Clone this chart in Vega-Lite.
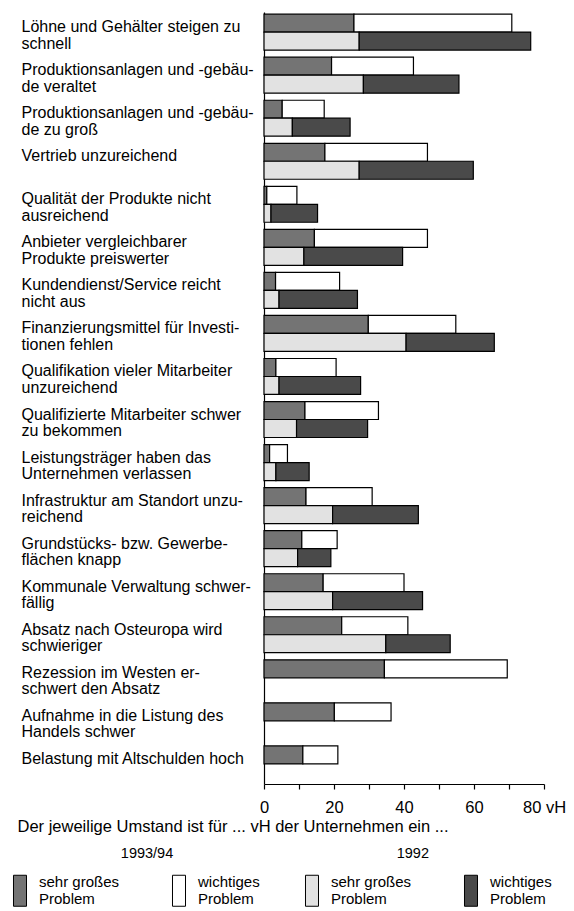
{
 "$schema": "https://vega.github.io/schema/vega-lite/v6.json",
 "width": 280, "height": 772,
 "autosize": {"type": "none"},
 "padding": {"left": 264, "top": 12, "right": 30, "bottom": 127},
 "background": "white",
 "config": {
  "font": "Liberation Sans",
  "view": {"stroke": null},
  "axis": {"grid": false, "domainColor": "black", "tickColor": "black", "labelColor": "black", "titleColor": "black", "domainWidth": 1.2, "tickWidth": 1.2}
 },
 "data": {"values": [
  {"k": "Löhne und Gehälter steigen zu|schnell", "j": "1993/94", "sehr großes": 25.7, "wichtiges": 45.1},
  {"k": "Löhne und Gehälter steigen zu|schnell", "j": "1992", "sehr großes": 27.2, "wichtiges": 49.0},
  {"k": "Produktionsanlagen und -gebäu-|de veraltet", "j": "1993/94", "sehr großes": 19.3, "wichtiges": 23.4},
  {"k": "Produktionsanlagen und -gebäu-|de veraltet", "j": "1992", "sehr großes": 28.4, "wichtiges": 27.3},
  {"k": "Produktionsanlagen und -gebäu-|de zu groß", "j": "1993/94", "sehr großes": 5.2, "wichtiges": 12.0},
  {"k": "Produktionsanlagen und -gebäu-|de zu groß", "j": "1992", "sehr großes": 8.1, "wichtiges": 16.5},
  {"k": "Vertrieb unzureichend", "j": "1993/94", "sehr großes": 17.4, "wichtiges": 29.3},
  {"k": "Vertrieb unzureichend", "j": "1992", "sehr großes": 27.2, "wichtiges": 32.6},
  {"k": "Qualität der Produkte nicht|ausreichend", "j": "1993/94", "sehr großes": 0.8, "wichtiges": 8.6},
  {"k": "Qualität der Produkte nicht|ausreichend", "j": "1992", "sehr großes": 2.0, "wichtiges": 13.3},
  {"k": "Anbieter vergleichbarer|Produkte preiswerter", "j": "1993/94", "sehr großes": 14.4, "wichtiges": 32.3},
  {"k": "Anbieter vergleichbarer|Produkte preiswerter", "j": "1992", "sehr großes": 11.4, "wichtiges": 28.2},
  {"k": "Kundendienst/Service reicht|nicht aus", "j": "1993/94", "sehr großes": 3.3, "wichtiges": 18.3},
  {"k": "Kundendienst/Service reicht|nicht aus", "j": "1992", "sehr großes": 4.3, "wichtiges": 22.4},
  {"k": "Finanzierungsmittel für Investi-|tionen fehlen", "j": "1993/94", "sehr großes": 29.8, "wichtiges": 25.0},
  {"k": "Finanzierungsmittel für Investi-|tionen fehlen", "j": "1992", "sehr großes": 40.6, "wichtiges": 25.2},
  {"k": "Qualifikation vieler Mitarbeiter|unzureichend", "j": "1993/94", "sehr großes": 3.4, "wichtiges": 17.2},
  {"k": "Qualifikation vieler Mitarbeiter|unzureichend", "j": "1992", "sehr großes": 4.3, "wichtiges": 23.3},
  {"k": "Qualifizierte Mitarbeiter schwer|zu bekommen", "j": "1993/94", "sehr großes": 11.7, "wichtiges": 21.0},
  {"k": "Qualifizierte Mitarbeiter schwer|zu bekommen", "j": "1992", "sehr großes": 9.3, "wichtiges": 20.3},
  {"k": "Leistungsträger haben das|Unternehmen verlassen", "j": "1993/94", "sehr großes": 1.6, "wichtiges": 5.1},
  {"k": "Leistungsträger haben das|Unternehmen verlassen", "j": "1992", "sehr großes": 3.4, "wichtiges": 9.5},
  {"k": "Infrastruktur am Standort unzu-|reichend", "j": "1993/94", "sehr großes": 12.0, "wichtiges": 18.9},
  {"k": "Infrastruktur am Standort unzu-|reichend", "j": "1992", "sehr großes": 19.6, "wichtiges": 24.5},
  {"k": "Grundstücks- bzw. Gewerbe-|flächen knapp", "j": "1993/94", "sehr großes": 10.8, "wichtiges": 10.1},
  {"k": "Grundstücks- bzw. Gewerbe-|flächen knapp", "j": "1992", "sehr großes": 9.6, "wichtiges": 9.5},
  {"k": "Kommunale Verwaltung schwer-|fällig", "j": "1993/94", "sehr großes": 16.9, "wichtiges": 23.1},
  {"k": "Kommunale Verwaltung schwer-|fällig", "j": "1992", "sehr großes": 19.6, "wichtiges": 25.7},
  {"k": "Absatz nach Osteuropa wird|schwieriger", "j": "1993/94", "sehr großes": 22.2, "wichtiges": 18.9},
  {"k": "Absatz nach Osteuropa wird|schwieriger", "j": "1992", "sehr großes": 34.8, "wichtiges": 18.4},
  {"k": "Rezession im Westen er-|schwert den Absatz", "j": "1993/94", "sehr großes": 34.4, "wichtiges": 35.1},
  {"k": "Aufnahme in die Listung des|Handels schwer", "j": "1993/94", "sehr großes": 20.1, "wichtiges": 16.2},
  {"k": "Belastung mit Altschulden hoch", "j": "1993/94", "sehr großes": 11.1, "wichtiges": 10.0}
 ]},
 "transform": [{"fold": ["sehr großes", "wichtiges"], "as": ["t", "v"]}],
 "encoding": {
  "y": {"field": "k", "type": "nominal", "sort": null,
   "scale": {"paddingInner": 0.165, "paddingOuter": 0.05},
   "axis": {"title": null, "ticks": false, "tickSize": 0, "labelAlign": "left", "labelPadding": 243, "labelBaseline": "middle", "labelOffset": -5, "labelFontSize": 16, "labelLineHeight": 16.5, "labelLimit": 250, "labelExpr": "split(datum.label, '|')"}},
  "yOffset": {"field": "j", "type": "nominal", "scale": {"domain": ["1993/94", "1992"], "paddingInner": 0, "paddingOuter": 0}},
  "x": {"field": "v", "type": "quantitative", "stack": "zero",
   "scale": {"domain": [0, 80], "nice": false},
   "axis": {"title": "Der jeweilige Umstand ist für ... vH der Unternehmen ein ...", "values": [0, 10, 20, 30, 40, 50, 60, 70, 80],
    "labelExpr": "datum.value % 20 == 0 ? (datum.value == 80 ? '80 vH' : datum.label) : ''",
    "labelFlush": false, "labelOverlap": false, "tickSize": 5, "labelPadding": 10, "labelFontSize": 16.5,
    "titleFontSize": 16.5, "titleFontWeight": "normal", "titleX": -247, "titleY": 47, "titleAlign": "left", "titleAnchor": "start", "titleBaseline": "alphabetic"}}
 },
 "layer": [
  {"transform": [{"filter": "datum.j == '1993/94'"}],
   "mark": {"type": "bar", "stroke": "black", "strokeWidth": 1.2},
   "encoding": {"fill": {"field": "t", "type": "nominal",
    "scale": {"domain": ["sehr großes", "wichtiges"], "range": ["#747474", "#ffffff"]},
    "legend": {"title": "\u200b\u00a0\u00a0\u00a0\u00a0\u00a0\u00a0\u00a0\u00a0\u00a0\u00a0\u00a0\u00a0\u00a0\u00a0\u00a0\u00a0\u00a0\u00a0\u00a0\u00a0\u00a0\u00a0\u00a0\u00a0\u00a0\u00a0\u00a0\u00a0\u00a01993/94",
     "orient": "none", "legendX": -260, "legendY": 835, "direction": "horizontal", "columns": 2, "columnPadding": 43,
     "titleAnchor": "start", "titleFontSize": 14.5, "titleFontWeight": "normal", "titleColor": "black", "titlePadding": 13, "titleLimit": 300,
     "symbolType": "M-0.42,-1H0.42V1H-0.42Z", "symbolSize": 961, "symbolStrokeColor": "black", "symbolStrokeWidth": 1,
     "labelExpr": "[datum.label, 'Problem']", "labelBaseline": "line-bottom", "labelFontSize": 15, "labelLineHeight": 18, "labelOffset": 3, "labelColor": "black", "padding": 0}}}},
  {"transform": [{"filter": "datum.j == '1992'"}],
   "mark": {"type": "bar", "stroke": "black", "strokeWidth": 1.2},
   "encoding": {"fill": {"field": "t", "type": "nominal",
    "scale": {"domain": ["sehr großes", "wichtiges"], "range": ["#e2e2e2", "#4a4a4a"]},
    "legend": {"title": "\u200b\u00a0\u00a0\u00a0\u00a0\u00a0\u00a0\u00a0\u00a0\u00a0\u00a0\u00a0\u00a0\u00a0\u00a0\u00a0\u00a0\u00a0\u00a0\u00a0\u00a0\u00a0\u00a0\u00a0\u00a0\u00a01992",
     "orient": "none", "legendX": 32, "legendY": 835, "direction": "horizontal", "columns": 2, "columnPadding": 43,
     "titleAnchor": "start", "titleFontSize": 14.5, "titleFontWeight": "normal", "titleColor": "black", "titlePadding": 13, "titleLimit": 300,
     "symbolType": "M-0.42,-1H0.42V1H-0.42Z", "symbolSize": 961, "symbolStrokeColor": "black", "symbolStrokeWidth": 1,
     "labelExpr": "[datum.label, 'Problem']", "labelBaseline": "line-bottom", "labelFontSize": 15, "labelLineHeight": 18, "labelOffset": 3, "labelColor": "black", "padding": 0}}}}
 ],
 "resolve": {"scale": {"fill": "independent"}, "legend": {"fill": "independent"}}
}
